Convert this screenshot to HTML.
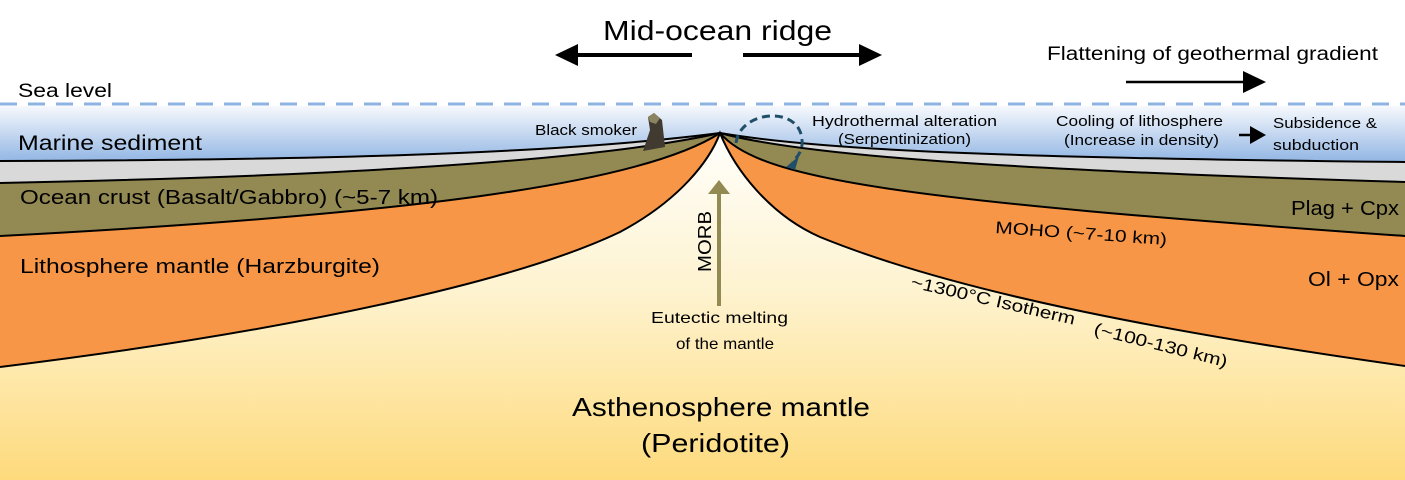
<!DOCTYPE html>
<html><head><meta charset="utf-8"><style>html,body{margin:0;padding:0;background:#fff}svg{display:block}text{font-family:"Liberation Sans",sans-serif;fill:#000}</style></head>
<body>
<svg width="1405" height="480" viewBox="0 0 1405 480" xmlns="http://www.w3.org/2000/svg">
<defs>
<linearGradient id="w" x1="0" y1="106" x2="0" y2="165" gradientUnits="userSpaceOnUse"><stop offset="0" stop-color="#f7f9fd"/><stop offset="1" stop-color="#8cb2e2"/></linearGradient>
<linearGradient id="a" x1="0" y1="140" x2="0" y2="480" gradientUnits="userSpaceOnUse"><stop offset="0" stop-color="#fffefa"/><stop offset="0.45" stop-color="#fef3cf"/><stop offset="1" stop-color="#fdda7c"/></linearGradient>
</defs>
<rect x="0" y="0" width="1405" height="480" fill="#fff"/>
<rect x="0" y="106" width="1405" height="374" fill="url(#w)"/>
<!-- sediment -->
<path d="M0,161 C300,160 550,155 720,133 C820,150 1000,158 1405,162 L1405,480 L0,480Z" fill="#d9d9d9"/>
<!-- crust -->
<path d="M0,183 C350,176 600,160 720,133 C800,155 1000,170 1405,182 L1405,480 L0,480Z" fill="#938953"/>
<!-- lithosphere -->
<path d="M0,236 C400,215 640,185 720,133 C760,180 900,200 1405,236 L1405,480 L0,480Z" fill="#f79646"/>
<!-- asthenosphere -->
<path d="M0,367 C300,330 520,280 620,232 C680,200 710,160 720,133 C735,170 770,215 820,237 C950,290 1150,330 1405,366 L1405,480 L0,480Z" fill="url(#a)"/>
<g fill="none" stroke="#000" stroke-width="2">
<path d="M0,161 C300,160 550,155 720,133 C820,150 1000,158 1405,162"/>
<path d="M0,183 C350,176 600,160 720,133 C800,155 1000,170 1405,182"/>
<path d="M0,236 C400,215 640,185 720,133 C760,180 900,200 1405,236"/>
<path d="M0,367 C300,330 520,280 620,232 C680,200 710,160 720,133 C735,170 770,215 820,237 C950,290 1150,330 1405,366"/>
</g>
<line x1="0" y1="104" x2="1405" y2="104" stroke="#8db3e2" stroke-width="3" stroke-dasharray="17,11"/>
<!-- black smoker -->
<path d="M643,151 L650,130 L648,117 L654,113 L662,120 L665,147 Z" fill="#403a30"/>
<path d="M648,117 L654,113 L660,118 L656,124 L650,122 Z" fill="#8a8460"/>
<!-- hydrothermal arc -->
<path d="M736,143 C740,110 800,105 802,140 C803,150 798,157 792,162" fill="none" stroke="#1f4e68" stroke-width="3" stroke-dasharray="8,5"/>
<path d="M786,167 L799,156 L795,170 Z" fill="#1f4e68"/>
<!-- top arrows -->
<line x1="692" y1="55" x2="575" y2="55" stroke="#000" stroke-width="4"/>
<path d="M555,55 L578,44 L578,66 Z" fill="#000"/>
<line x1="743" y1="55" x2="862" y2="55" stroke="#000" stroke-width="4"/>
<path d="M882,55 L859,44 L859,66 Z" fill="#000"/>
<line x1="1126" y1="82" x2="1245" y2="82" stroke="#000" stroke-width="2.5"/>
<path d="M1266,82 L1243,71 L1243,93 Z" fill="#000"/>
<line x1="1239" y1="135" x2="1252" y2="135" stroke="#000" stroke-width="2.5"/>
<path d="M1266,135 L1250,126 L1250,144 Z" fill="#000"/>
<!-- MORB arrow -->
<line x1="719" y1="306" x2="719" y2="190" stroke="#938953" stroke-width="4"/>
<path d="M719,180 L708,194 L730,194 Z" fill="#938953"/>
<!-- texts -->
<text x="603" y="40" font-size="28" textLength="229" lengthAdjust="spacingAndGlyphs">Mid-ocean ridge</text>
<text x="1047" y="60" font-size="19" textLength="331" lengthAdjust="spacingAndGlyphs">Flattening of geothermal gradient</text>
<text x="18" y="97" font-size="19" textLength="94" lengthAdjust="spacingAndGlyphs">Sea level</text>
<text x="18" y="150" font-size="21" textLength="184" lengthAdjust="spacingAndGlyphs">Marine sediment</text>
<text x="20" y="204" font-size="20" textLength="418" lengthAdjust="spacingAndGlyphs">Ocean crust (Basalt/Gabbro) (~5-7 km)</text>
<text x="20" y="273" font-size="20" textLength="360" lengthAdjust="spacingAndGlyphs">Lithosphere mantle (Harzburgite)</text>
<text x="535" y="135" font-size="15" textLength="102" lengthAdjust="spacingAndGlyphs">Black smoker</text>
<text x="812" y="126" font-size="15" textLength="185" lengthAdjust="spacingAndGlyphs">Hydrothermal alteration</text>
<text x="838" y="144" font-size="15" textLength="133" lengthAdjust="spacingAndGlyphs">(Serpentinization)</text>
<text x="1056" y="126" font-size="15" textLength="167" lengthAdjust="spacingAndGlyphs">Cooling of lithosphere</text>
<text x="1064" y="145" font-size="15" textLength="155" lengthAdjust="spacingAndGlyphs">(Increase in density)</text>
<text x="1273" y="128" font-size="15" textLength="104" lengthAdjust="spacingAndGlyphs">Subsidence &amp;</text>
<text x="1273" y="150" font-size="15" textLength="86" lengthAdjust="spacingAndGlyphs">subduction</text>
<text x="1291" y="215" font-size="20" textLength="108" lengthAdjust="spacingAndGlyphs">Plag + Cpx</text>
<text x="1308" y="286" font-size="20" textLength="91" lengthAdjust="spacingAndGlyphs">Ol + Opx</text>
<text transform="translate(995,233) rotate(4)" font-size="17" textLength="172" lengthAdjust="spacingAndGlyphs">MOHO (~7-10 km)</text>
<text transform="translate(910,287) rotate(13)" font-size="17" textLength="168" lengthAdjust="spacingAndGlyphs">~1300°C Isotherm</text>
<text transform="translate(1093,334) rotate(14)" font-size="17" textLength="137" lengthAdjust="spacingAndGlyphs">(~100-130 km)</text>
<text transform="translate(711,272) rotate(-90)" font-size="18" textLength="61" lengthAdjust="spacingAndGlyphs">MORB</text>
<text x="651" y="323" font-size="16" textLength="137" lengthAdjust="spacingAndGlyphs">Eutectic melting</text>
<text x="676" y="349" font-size="16" textLength="98" lengthAdjust="spacingAndGlyphs">of the mantle</text>
<text x="572" y="416" font-size="26" textLength="298" lengthAdjust="spacingAndGlyphs">Asthenosphere mantle</text>
<text x="641" y="452" font-size="26" textLength="149" lengthAdjust="spacingAndGlyphs">(Peridotite)</text>
</svg>
</body></html>
